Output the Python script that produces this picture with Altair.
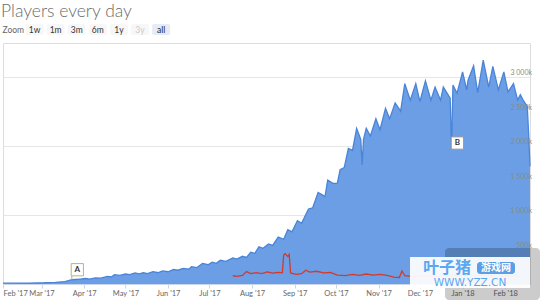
import altair as alt
import pandas as pd

# ---------------- data ----------------
area_dates = [
    "2017-02-01", "2017-02-20", "2017-03-03", "2017-03-11", "2017-03-18", "2017-03-23",
    "2017-03-29", "2017-04-02", "2017-04-05", "2017-04-09", "2017-04-13", "2017-04-18",
    "2017-04-21", "2017-04-23", "2017-04-27", "2017-05-01", "2017-05-04", "2017-05-08",
    "2017-05-11", "2017-05-14", "2017-05-17", "2017-05-21", "2017-05-25", "2017-05-28",
    "2017-06-01", "2017-06-05", "2017-06-08", "2017-06-12", "2017-06-16", "2017-06-18",
    "2017-06-22", "2017-06-26", "2017-06-30", "2017-07-03", "2017-07-06", "2017-07-09",
    "2017-07-13", "2017-07-18", "2017-07-21", "2017-07-25", "2017-07-28", "2017-07-31",
    "2017-08-03", "2017-08-06", "2017-08-09", "2017-08-13", "2017-08-16", "2017-08-20",
    "2017-08-24", "2017-08-27", "2017-08-30", "2017-09-03", "2017-09-06", "2017-09-11",
    "2017-09-14", "2017-09-18", "2017-09-21", "2017-09-23", "2017-09-25", "2017-09-29",
    "2017-10-02", "2017-10-04", "2017-10-07", "2017-10-10", "2017-10-13", "2017-10-16",
    "2017-10-19", "2017-10-20", "2017-10-21", "2017-10-23", "2017-10-26", "2017-10-30",
    "2017-11-02", "2017-11-06", "2017-11-09", "2017-11-13", "2017-11-17", "2017-11-20",
    "2017-11-24", "2017-11-28", "2017-12-01", "2017-12-05", "2017-12-09", "2017-12-12",
    "2017-12-16", "2017-12-18", "2017-12-23", "2017-12-24", "2017-12-25", "2017-12-28",
    "2018-01-01", "2018-01-04", "2018-01-05", "2018-01-09", "2018-01-12", "2018-01-16",
    "2018-01-20", "2018-01-23", "2018-01-27", "2018-01-31", "2018-02-03", "2018-02-07",
    "2018-02-10", "2018-02-12", "2018-02-14", "2018-02-17", "2018-02-18", "2018-02-19",
]
area_values_k = [
    12, 14, 18, 25, 35, 62,
    72, 80, 72, 88, 84, 110,
    104, 135, 124, 145, 135, 160,
    148, 163, 152, 178, 165, 190,
    178, 212, 200, 228, 215, 252,
    238, 300, 280, 318, 300, 345,
    328, 380, 362, 402, 385, 462,
    445, 540, 518, 582, 560, 682,
    650, 790, 758, 920, 882, 1090,
    1105, 1330, 1295, 1270, 1510, 1460,
    1465, 1660, 1690, 1970, 1940, 2260,
    2100, 1730, 2100, 2260, 2150, 2400,
    2240, 2550, 2400, 2630, 2510, 2910,
    2670, 2910, 2650, 2950, 2670, 2860,
    2670, 2860, 2700, 1950, 2890, 2770,
    3080, 2820, 2960, 3170, 2780, 3250,
    2860, 3160, 2820, 3080, 2790, 2910,
    2670, 2750, 2670, 2580, 2190, 1710,
]

red_dates = [
    "2017-07-18", "2017-07-21", "2017-07-25", "2017-07-28", "2017-07-31", "2017-08-04",
    "2017-08-08", "2017-08-12", "2017-08-16", "2017-08-20", "2017-08-23", "2017-08-24",
    "2017-08-25", "2017-08-27", "2017-08-28", "2017-08-29", "2017-09-02", "2017-09-06",
    "2017-09-09", "2017-09-12", "2017-09-17", "2017-09-22", "2017-09-27", "2017-10-02",
    "2017-10-08", "2017-10-13", "2017-10-18", "2017-10-23", "2017-10-28", "2017-11-02",
    "2017-11-07", "2017-11-12", "2017-11-16", "2017-11-18", "2017-11-20", "2017-11-25",
    "2017-12-03", "2017-12-12", "2017-12-22", "2018-01-03", "2018-01-15", "2018-01-28",
    "2018-02-10",
]
red_values_k = [
    120, 110, 125, 180, 150, 165,
    152, 175, 158, 170, 162, 420,
    440, 400, 430, 160, 140, 150,
    200, 172, 185, 162, 170, 130,
    122, 140, 125, 145, 130, 140,
    125, 100, 95, 190, 120, 110,
    118, 112, 120, 125, 130, 118,
    115,
]

x_tick_months = [(2017, m) for m in range(2, 13)] + [(2018, 1), (2018, 2)]

y_grid_values = [0, 500000, 1000000, 1500000, 2000000, 2500000, 3000000, 3500000]
y_label_values = [500000, 1000000, 1500000, 2000000, 2500000, 3000000]
y_label_texts = ["500k", "1 000k", "1 500k", "2 000k", "2 500k", "3 000k"]

flag_labels = ["A", "B"]
flag_dates = ["2017-03-23", "2017-12-24"]
flag_values_k = [62, 1950]

title_text = "Players every day"
zoom_label = "Zoom"
zoom_buttons = ["1w", "1m", "3m", "6m", "1y", "3y", "all"]

wm_main = "叶子猪"
wm_badge = "游戏网"
wm_url = "WWW.YZZ.CN"

# ---------------- tables ----------------
area_df = pd.DataFrame({"date": pd.to_datetime(area_dates),
                        "players": [v * 1000 for v in area_values_k]})
red_df = pd.DataFrame({"date": pd.to_datetime(red_dates),
                       "players": [v * 1000 for v in red_values_k]})
ylab_df = pd.DataFrame({"v": y_label_values, "t": y_label_texts})
flag_df = pd.DataFrame({"label": flag_labels, "date": pd.to_datetime(flag_dates),
                        "players": [v * 1000 for v in flag_values_k]})

W, H = 527, 241
x_scale = alt.Scale(domain=[alt.DateTime(year=2017, month=2, date=1),
                            alt.DateTime(year=2018, month=2, date=19)])
y_scale = alt.Scale(domain=[0, 3500000], nice=False)

x_axis = alt.Axis(format="%b '%y",
                  values=[alt.DateTime(year=y, month=m, date=1) for y, m in x_tick_months],
                  labelOverlap=False,
                  labelFontSize=7.5, labelColor="#666666", labelFont="Lato",
                  tickColor="#ccd6eb", tickSize=4, domainColor="#ccd6eb",
                  labelPadding=1.5, grid=False, title=None, labelFlush=True)
y_axis = alt.Axis(values=y_grid_values, grid=True, gridColor="#e6e6e6",
                  labels=False, ticks=False, domain=False, title=None)

area = alt.Chart(area_df).mark_area(
    color="#6b9ee4", opacity=1,
    line={"color": "#4a84d8", "strokeWidth": 1.3}
).encode(
    x=alt.X("date:T", scale=x_scale, axis=x_axis),
    y=alt.Y("players:Q", scale=y_scale, axis=y_axis),
)

red = alt.Chart(red_df).mark_line(color="#d23a2c", strokeWidth=1.3).encode(
    x="date:T", y="players:Q")

ylabels = alt.Chart(ylab_df).mark_text(
    align="right", baseline="bottom", fontSize=7, font="Lato", color="#8a8a8a", dy=-1
).encode(x=alt.value(W + 2), y=alt.Y("v:Q"), text="t:N")

flag_layers = []
flag_styles = {
    "A": dict(dx=5.5, dy=-10, stroke="#b4b484", stem=-4),
    "B": dict(dx=5.8, dy=-6.7, stroke="#9a9a9a", stem=0),
}
for lab in flag_labels:
    st = flag_styles[lab]
    sub = alt.Chart(flag_df).transform_filter(alt.datum.label == lab)
    if st["stem"]:
        flag_layers.append(sub.mark_rule(color=st["stroke"], strokeWidth=1,
                                         y2Offset=st["stem"]).encode(
            x="date:T", y="players:Q", y2="players:Q"))
    flag_layers.append(sub.mark_point(shape="square", filled=True, fill="white",
                                      stroke=st["stroke"], strokeWidth=1, size=150,
                                      opacity=1, xOffset=st["dx"], yOffset=st["dy"]).encode(
        x="date:T", y="players:Q"))
    flag_layers.append(sub.mark_text(fontSize=8, fontWeight="bold", font="Lato",
                                     color="#333333", xOffset=st["dx"], yOffset=st["dy"],
                                     baseline="middle").encode(
        x="date:T", y="players:Q", text="label:N"))

# ---------------- header (title and zoom buttons) ----------------
one = pd.DataFrame({"k": [0]})
btn_df = pd.DataFrame({"label": zoom_buttons})
btn_df["cx"] = [31.5 + 21.1 * i for i in range(len(zoom_buttons))]
btn_df["x0"] = btn_df["cx"] - 9
btn_df["x1"] = btn_df["cx"] + 9
btn_df["fill"] = ["#f7f7f7"] * (len(zoom_buttons) - 1) + ["#e6ebf5"]
btn_df["tcol"] = ["#333333"] * 5 + ["#cccccc", "#222222"]

title = alt.Chart(one).mark_text(
    text=title_text, align="left", baseline="alphabetic", fontSize=17.5,
    font="Lato", fontWeight=300, color="#6b6b6b"
).encode(x=alt.value(-2), y=alt.value(-26))

zoom_txt = alt.Chart(one).mark_text(
    text=zoom_label, align="left", baseline="middle", fontSize=8.5,
    font="Lato", color="#666666"
).encode(x=alt.value(-0.5), y=alt.value(-13.5))

btn_rect = alt.Chart(btn_df).mark_rect(cornerRadius=2).encode(
    x=alt.X("x0:Q", scale=None), x2="x1:Q",
    y=alt.value(-19), y2=alt.value(-8),
    color=alt.Color("fill:N", scale=None))
btn_text = alt.Chart(btn_df).mark_text(
    baseline="middle", fontSize=8.5, font="Lato").encode(
    x=alt.X("cx:Q", scale=None), y=alt.value(-13.5), text="label:N",
    color=alt.Color("tcol:N", scale=None))

# ---------------- watermark overlay ----------------
gray_box = alt.Chart(one).mark_rect(color="black", opacity=0.2, cornerRadius=4).encode(
    x=alt.value(442), x2=alt.value(537), y=alt.value(205), y2=alt.value(257))
white_box = alt.Chart(one).mark_rect(color="white", opacity=0.93).encode(
    x=alt.value(407), x2=alt.value(527), y=alt.value(214), y2=alt.value(245))
wm1 = alt.Chart(one).mark_text(
    text=wm_main, fontSize=16, fontWeight="bold", font="Noto Sans CJK SC",
    color="#5aa7f2", baseline="middle").encode(x=alt.value(444), y=alt.value(224.5))
badge = alt.Chart(one).mark_rect(color="#5c9fe6", cornerRadius=3).encode(
    x=alt.value(474), x2=alt.value(512), y=alt.value(219), y2=alt.value(231))
wm2 = alt.Chart(one).mark_text(
    text=wm_badge, fontSize=10, font="Noto Sans CJK SC", fontWeight="bold",
    color="white", baseline="middle").encode(x=alt.value(493), y=alt.value(225))
wm3 = alt.Chart(one).mark_text(
    text=wm_url, fontSize=10.5, font="DejaVu Sans", color="#5aa5f0",
    baseline="middle").encode(x=alt.value(467), y=alt.value(240))

chart = alt.layer(
    area, red, ylabels, *flag_layers,
    title, zoom_txt, btn_rect, btn_text,
    gray_box, white_box, wm1, badge, wm2, wm3,
).properties(
    width=W, height=H,
    autosize=alt.AutoSizeParams(type="none"),
    padding={"left": 3, "top": 43, "right": 10, "bottom": 18},
).configure_view(stroke=None).configure(background="white")

chart.save("out.html", embed_options={"renderer": "svg", "actions": False})
